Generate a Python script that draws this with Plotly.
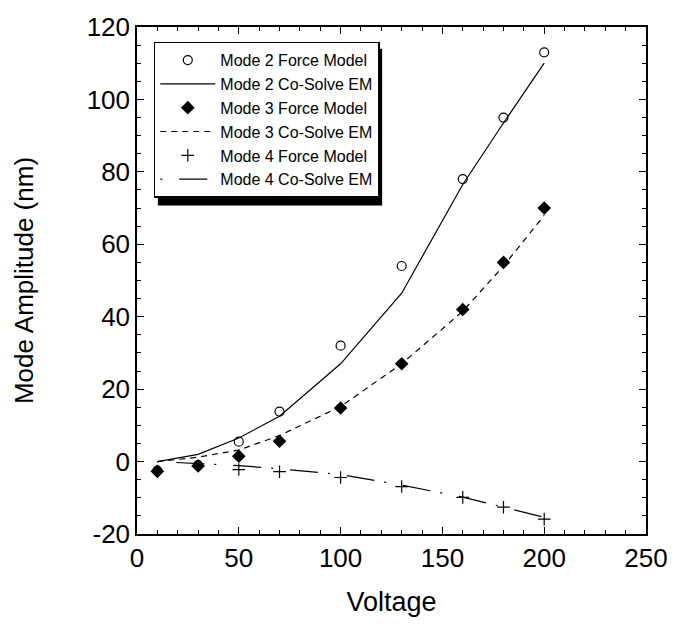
import plotly.graph_objects as go

# Drive voltage (V)
voltage = [10, 30, 50, 70, 100, 130, 160, 180, 200]

# Mode amplitudes (nm)
mode2_force = [-2.5, -1.0, 5.5, 13.8, 32.0, 54.0, 78.0, 95.0, 113.0]
mode2_em = [0.0, 2.0, 6.5, 12.5, 27.0, 46.5, 76.5, 93.5, 110.0]
mode3_force = [-2.7, -1.2, 1.5, 5.6, 14.8, 27.0, 42.0, 55.0, 70.0]
mode3_em = [0.0, 1.2, 3.2, 7.2, 15.2, 27.0, 41.5, 54.0, 68.0]
mode4_force = [None, None, -2.2, -2.8, -4.4, -6.9, -9.9, -12.6, -15.9]
mode4_em = [0.0, -0.5, -1.1, -2.0, -3.6, -6.5, -9.8, -12.6, -15.4]

# Axis tick values and labels (plain hyphen for negatives)
x_ticks = [0, 50, 100, 150, 200, 250]
x_ticktext = ["0", "50", "100", "150", "200", "250"]
y_ticks = [-20, 0, 20, 40, 60, 80, 100, 120]
y_ticktext = ["-20", "0", "20", "40", "60", "80", "100", "120"]

FONT = "Liberation Sans, Arial, Helvetica, sans-serif"

fig = go.Figure()

# lines first so the markers sit on top; legendrank keeps the legend order
fig.add_trace(go.Scatter(
    x=voltage, y=mode2_em, mode="lines", name="Mode 2 Co-Solve EM",
    line=dict(color="black", width=1.2), legendrank=2))
fig.add_trace(go.Scatter(
    x=voltage, y=mode3_em, mode="lines", name="Mode 3 Co-Solve EM",
    line=dict(color="black", width=1.2, dash="6px,5px"), legendrank=4))
fig.add_trace(go.Scatter(
    x=voltage, y=mode4_em, mode="lines", name="Mode 4 Co-Solve EM",
    line=dict(color="black", width=1.2, dash="2px,17px,28px,10px"), legendrank=6))

fig.add_trace(go.Scatter(
    x=voltage, y=mode2_force, mode="markers", name="Mode 2 Force Model",
    marker=dict(symbol="circle-open", size=9, color="black", line=dict(width=1.2)),
    legendrank=1))
fig.add_trace(go.Scatter(
    x=voltage, y=mode3_force, mode="markers", name="Mode 3 Force Model",
    marker=dict(symbol="diamond", size=10.5, color="black"), legendrank=3))
fig.add_trace(go.Scatter(
    x=voltage, y=mode4_force, mode="markers", name="Mode 4 Force Model",
    marker=dict(symbol="cross-thin-open", size=9, color="black", line=dict(width=1.2)),
    legendrank=5))

axis_common = dict(
    showline=True, linecolor="black", linewidth=1.5, mirror="allticks",
    ticks="inside", ticklen=7, tickwidth=1.2, tickcolor="black",
    showgrid=False, zeroline=False,
    tickfont=dict(family=FONT, size=26, color="black"),
)

fig.update_xaxes(
    range=[0, 250], tickmode="array", tickvals=x_ticks, ticktext=x_ticktext,
    minor=dict(dtick=10, tick0=0, ticks="inside", ticklen=4, tickcolor="black",
               tickwidth=1, showgrid=False),
    title=dict(text="Voltage", font=dict(family=FONT, size=27, color="black"), standoff=20),
    **axis_common)
fig.update_yaxes(
    range=[-20, 120], tickmode="array", tickvals=y_ticks, ticktext=y_ticktext,
    minor=dict(dtick=5, tick0=0, ticks="inside", ticklen=4, tickcolor="black",
               tickwidth=1, showgrid=False),
    title=dict(text="Mode Amplitude (nm)", font=dict(family=FONT, size=26, color="black"),
               standoff=46),
    **axis_common)

# drop shadow behind the legend box
fig.add_shape(type="rect", xref="paper", yref="paper",
              x0=0.041, x1=0.4816, y0=0.648, y1=0.957,
              fillcolor="black", line=dict(width=0), layer="above")

fig.update_layout(
    width=680, height=628,
    margin=dict(l=137, r=28, t=22, b=94),
    paper_bgcolor="white", plot_bgcolor="white",
    font=dict(family=FONT, color="black"),
    legend=dict(
        x=0.033, y=0.971, xanchor="left", yanchor="top",
        bgcolor="white", bordercolor="black", borderwidth=1.5,
        font=dict(family=FONT, size=16, color="black"),
        itemwidth=55, traceorder="normal",
    ),
    showlegend=True,
)

fig.write_html("out.html")
